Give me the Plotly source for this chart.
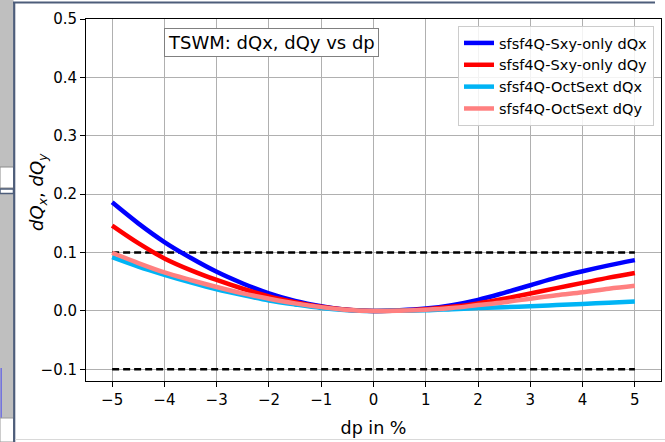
import plotly.graph_objects as go

# momentum deviation in percent
dp = [-5, -4.5, -4, -3.5, -3, -2.5, -2, -1.5, -1, -0.5, 0,
      0.5, 1, 1.5, 2, 2.5, 3, 3.5, 4, 4.5, 5]

# tune shifts vs dp
sxy_dqx = [0.186, 0.150, 0.118, 0.091, 0.067, 0.047, 0.030, 0.017, 0.008, 0.002, 0.0,
           0.001, 0.004, 0.010, 0.019, 0.031, 0.044, 0.057, 0.068, 0.078, 0.087]
sxy_dqy = [0.146, 0.116, 0.090, 0.070, 0.053, 0.038, 0.025, 0.015, 0.007, 0.002, 0.0,
           0.0008, 0.003, 0.007, 0.013, 0.021, 0.030, 0.039, 0.048, 0.057, 0.065]
oct_dqx = [0.092, 0.076, 0.062, 0.049, 0.037, 0.027, 0.018, 0.011, 0.005, 0.0013, 0.0,
           0.0003, 0.001, 0.003, 0.005, 0.0065, 0.008, 0.010, 0.012, 0.014, 0.016]
oct_dqy = [0.0996, 0.082, 0.066, 0.053, 0.041, 0.030, 0.021, 0.013, 0.0065, 0.0017, 0.0,
           0.0005, 0.002, 0.005, 0.010, 0.015, 0.021, 0.027, 0.032, 0.038, 0.043]

limit_lo, limit_hi = -0.1, 0.1
limit_x = [-5, 5]

series = [
    ("sfsf4Q-Sxy-only dQx", sxy_dqx, "#0000ff"),
    ("sfsf4Q-Sxy-only dQy", sxy_dqy, "#ff0000"),
    ("sfsf4Q-OctSext dQx", oct_dqx, "#00b4f5"),
    ("sfsf4Q-OctSext dQy", oct_dqy, "#ff8080"),
]

FONT = "DejaVu Sans"
W, H = 665, 442
ML, MR, MT, MB = 86, 4, 19, 61
PW, PH = W - ML - MR, H - MT - MB

fig = go.Figure()

for lim in (limit_lo, limit_hi):
    fig.add_trace(go.Scatter(
        x=limit_x, y=[lim, lim], mode="lines",
        line=dict(color="black", width=2.5, dash="7px,4px"),
        showlegend=False, hoverinfo="skip"))

for name, vals, col in series:
    fig.add_trace(go.Scatter(
        x=dp, y=vals, mode="lines", name=name,
        line=dict(color=col, width=4.5, shape="spline", smoothing=1.0)))


def px_x(p):
    return (p - ML) / PW


def px_y(p):
    return 1 - (p - MT) / PH


def pshape(**kw):
    kw.setdefault("xref", "paper")
    kw.setdefault("yref", "paper")
    return kw


# window chrome around the figure
shapes = [
    pshape(type="rect", x0=px_x(0), x1=px_x(13.5), y0=px_y(0), y1=px_y(418),
           fillcolor="#bfbfbf", line_width=0),
    pshape(type="rect", x0=px_x(0), x1=px_x(13.5), y0=px_y(167), y1=px_y(188),
           fillcolor="#ffffff", line=dict(color="#8a8a8a", width=1)),
    pshape(type="rect", x0=px_x(0), x1=px_x(13.5), y0=px_y(189), y1=px_y(193.5),
           fillcolor="#ffffff", line=dict(color="#4d5d7a", width=1.5)),
    pshape(type="line", x0=px_x(1.2), x1=px_x(1.2), y0=px_y(368), y1=px_y(418),
           line=dict(color="#7070e0", width=1.5)),
    pshape(type="rect", x0=px_x(0), x1=px_x(13.5), y0=px_y(418), y1=px_y(442),
           fillcolor="#ffffff", line=dict(color="#9a9a9a", width=1)),
    pshape(type="line", x0=px_x(14.2), x1=px_x(14.2), y0=px_y(2), y1=px_y(442),
           line=dict(color="#4d5d7a", width=2.2)),
    pshape(type="line", x0=px_x(13), x1=px_x(655), y0=px_y(2.5), y1=px_y(2.5),
           line=dict(color="#4d5d7a", width=2.2)),
    pshape(type="line", x0=px_x(15), x1=px_x(665), y0=px_y(439.5), y1=px_y(439.5),
           line=dict(color="#d9d9d9", width=1)),
]

axis_common = dict(
    showgrid=True, gridcolor="#b0b0b0", gridwidth=0.8,
    showline=True, linecolor="black", linewidth=1, mirror=True,
    ticks="outside", ticklen=5, tickcolor="black", tickwidth=1,
    zeroline=False, tickfont=dict(family=FONT, size=15, color="black"),
)

fig.update_layout(
    width=W, height=H,
    margin=dict(l=ML, r=MR, t=MT, b=MB),
    paper_bgcolor="white", plot_bgcolor="white",
    font=dict(family=FONT, color="black"),
    shapes=shapes,
    xaxis=dict(axis_common, range=[-5.5, 5.5], tickmode="array",
               tickvals=list(range(-5, 6)),
               ticktext=[("\u2212" + str(-v)) if v < 0 else str(v) for v in range(-5, 6)],
               title=dict(text="dp in %", font=dict(family=FONT, size=17.5), standoff=13)),
    yaxis=dict(axis_common, range=[-0.12, 0.5], tickmode="array",
               tickvals=[-0.1, 0.0, 0.1, 0.2, 0.3, 0.4, 0.5],
               ticktext=["\u22120.1", "0.0", "0.1", "0.2", "0.3", "0.4", "0.5"]),
    legend=dict(x=px_x(458), y=px_y(26), xanchor="left", yanchor="top",
                bgcolor="rgba(255,255,255,0.85)", bordercolor="#cccccc", borderwidth=1,
                font=dict(family=FONT, size=14.5), tracegroupgap=0),
    annotations=[
        dict(text="TSWM: dQx, dQy vs dp", x=px_x(271), y=px_y(42.5),
             xref="paper", yref="paper", xanchor="center", yanchor="middle",
             showarrow=False, font=dict(family=FONT, size=18, color="black"),
             bgcolor="white", bordercolor="#808080", borderwidth=1, borderpad=3),
        dict(text="<i>dQ</i><sub><i>x</i></sub>, <i>dQ</i><sub><i>y</i></sub>",
             x=px_x(38), y=px_y(192), xref="paper", yref="paper",
             xanchor="center", yanchor="middle", textangle=-90,
             showarrow=False, font=dict(family=FONT, size=18, color="black")),
    ],
)

fig.write_html("out.html")
